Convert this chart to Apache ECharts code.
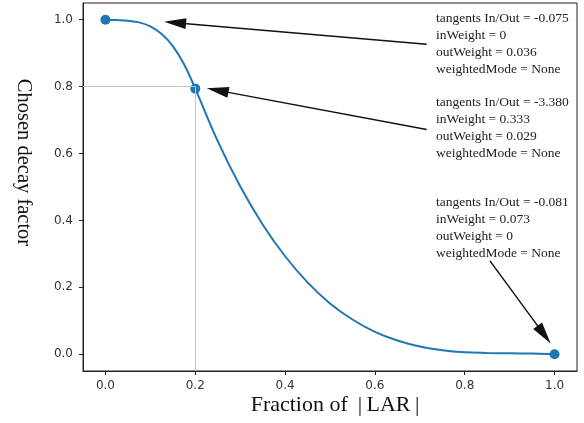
<!DOCTYPE html>
<html>
<head>
<meta charset="utf-8">
<script src="https://cdn.jsdelivr.net/npm/echarts@6/dist/echarts.min.js"></script>
<style>
  html, body { margin: 0; padding: 0; background: #fff; }
  #chart { width: 584px; height: 423px; }
</style>
</head>
<body>
<div id="chart"></div>
<script>
// curve
const curveX = [0, 0.025, 0.05, 0.075, 0.1, 0.125, 0.15, 0.175, 0.2, 0.25, 0.3, 0.35, 0.4,
  0.45, 0.5, 0.55, 0.6, 0.65, 0.7, 0.75, 0.8, 0.85, 0.9, 0.95, 1.0];
const curveY = [1.0, 0.999, 0.997, 0.992, 0.98, 0.957, 0.921, 0.867, 0.794, 0.637, 0.502, 0.388, 0.293,
  0.215, 0.152, 0.104, 0.067, 0.041, 0.023, 0.012, 0.006, 0.004, 0.003, 0.002, 0.0];
// keyframes
const keyX = [0, 0.2, 1.0];
const keyY = [1.0, 0.794, 0.0];
const tickValues = [0, 0.2, 0.4, 0.6, 0.8, 1.0];
const keyNotes = [
  ['tangents In/Out = -0.075', 'inWeight = 0', 'outWeight = 0.036', 'weightedMode = None'],
  ['tangents In/Out = -3.380', 'inWeight = 0.333', 'outWeight = 0.029', 'weightedMode = None'],
  ['tangents In/Out = -0.081', 'inWeight = 0.073', 'outWeight = 0', 'weightedMode = None'],
];

// annotation arrows (data coords, the end is the centre of the head)
const arrowFrom = [[0.7153, 0.9264], [0.7153, 0.6722], [0.8562, 0.2791]];
const arrowTo = [[0.155, 0.9912], [0.2497, 0.7888], [0.9768, 0.0586]];
const noteTop = [10.3, 93.6, 194.2];

const chart = echarts.init(document.getElementById('chart'), null, { renderer: 'canvas' });

const axisCommon = {
  type: 'value',
  min: -0.05,
  max: 1.05,
  splitLine: { show: false },
  axisLine: { show: true, onZero: false, lineStyle: { color: '#222', width: 1 } },
  axisTick: { show: true, customValues: tickValues, length: 4, lineStyle: { color: '#222', width: 1 } },
  axisLabel: {
    customValues: tickValues,
    formatter: (v) => v.toFixed(1),
    fontFamily: 'DejaVu Sans',
    fontSize: 12,
    color: '#333',
  },
};

chart.setOption({
  animation: false,
  grid: {
    left: 83,
    right: 7,
    top: 3,
    bottom: 52,
    show: true,
    borderColor: '#222',
    borderWidth: 1,
    backgroundColor: 'transparent',
    outerBoundsMode: 'none',
    containLabel: false,
  },
  xAxis: {
    ...axisCommon,
    axisLabel: { ...axisCommon.axisLabel, margin: 9 },
  },
  yAxis: {
    ...axisCommon,
    axisLabel: { ...axisCommon.axisLabel, margin: 10 },
  },
  series: [
    {
      name: 'curve',
      type: 'line',
      smooth: 0.4,
      showSymbol: false,
      silent: true,
      lineStyle: { color: '#1f77b4', width: 2 },
      data: curveX.map((x, i) => [x, curveY[i]]),
      markLine: {
        silent: true,
        animation: false,
        label: { show: false },
        symbol: ['none', 'triangle'],
        symbolSize: 22,
        symbolKeepAspect: false,
        lineStyle: { color: '#111', width: 1.5, type: 'solid' },
        emphasis: { disabled: true },
        data: arrowFrom.map((p, i) => [
          { coord: p, symbol: 'none' },
          { coord: arrowTo[i], symbol: 'triangle', symbolSize: [11, 22] },
        ]),
      },
    },
    {
      name: 'keys',
      type: 'scatter',
      symbolSize: 10,
      silent: true,
      itemStyle: { color: '#1f77b4', opacity: 1 },
      data: keyX.map((x, i) => [x, keyY[i]]),
      markLine: {
        silent: true,
        animation: false,
        label: { show: false },
        symbol: ['none', 'none'],
        lineStyle: { color: '#c4c4c4', width: 1, type: 'solid' },
        emphasis: { disabled: true },
        data: [
          [{ coord: [-0.05, 0.8] }, { coord: [0.2, 0.8] }],
          [{ coord: [0.2, -0.05] }, { coord: [0.2, 0.8] }],
        ],
      },
    },
  ],
  graphic: [
    ...keyNotes.map((lines, i) => ({
      type: 'text',
      left: 436,
      top: noteTop[i],
      silent: true,
      style: {
        text: lines.join('\n'),
        font: '13.5px "Liberation Serif"',
        lineHeight: 17,
        fill: '#222',
      },
    })),
    {
      type: 'text',
      x: 335,
      y: 405.5,
      silent: true,
      style: {
        text: 'Fraction of \u2009|\u2009LAR\u2009|',
        font: '22px "Liberation Serif"',
        fill: '#111',
        align: 'center',
        verticalAlign: 'middle',
      },
    },
    {
      type: 'text',
      x: 23,
      y: 162.5,
      rotation: -Math.PI / 2,
      silent: true,
      style: {
        text: 'Chosen decay factor',
        font: '20.5px "Liberation Serif"',
        fill: '#111',
        align: 'center',
        verticalAlign: 'middle',
      },
    },
  ],
});
</script>
</body>
</html>
